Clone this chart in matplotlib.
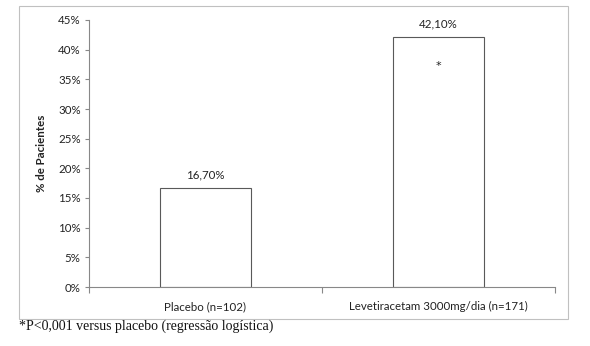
import matplotlib
matplotlib.use("Agg")
import matplotlib.pyplot as plt
from matplotlib.patches import Rectangle
from matplotlib.ticker import FixedLocator, FuncFormatter

categories = ["Placebo (n=102)", "Levetiracetam 3000mg/dia (n=171)"]
values = [0.167, 0.421]
value_labels = ["16,70%", "42,10%"]
y_ticks = [0, 0.05, 0.10, 0.15, 0.20, 0.25, 0.30, 0.35, 0.40, 0.45]

plt.rcParams['font.family'] = ['Lato', 'DejaVu Sans']

fig = plt.figure(figsize=(5.9, 3.46), dpi=100)
fig.patch.set_facecolor("white")
ax = fig.add_axes([89/590, 1-287/346, 466/590, 267/346])

x = list(range(len(categories)))
ax.bar(x, values, width=0.39, color="white", edgecolor="#595959", linewidth=0.8, zorder=2)
for xi, v, lab in zip(x, values, value_labels):
    ax.annotate(lab, (xi, v), xytext=(0, 5.5), textcoords="offset points",
                ha="center", va="bottom", fontsize=8.3, color="#222222")
ax.text(1, 0.372, "*", ha="center", va="center", fontsize=8, color="#222222",
        family=["DejaVu Sans"])

ax.set_xlim(-0.5, 1.5)
ax.set_ylim(0, 0.45)
ax.yaxis.set_major_locator(FixedLocator(y_ticks))
ax.yaxis.set_major_formatter(FuncFormatter(lambda v, p: f"{round(v*100)}%"))
ax.set_xticks([-0.5, 0.5, 1.5], minor=False)
ax.set_xticklabels([])
ax.set_xticks(x, minor=True)
ax.set_xticklabels(categories, minor=True)
ax.tick_params(axis="x", which="minor", length=0, pad=10, labelsize=8.3, labelcolor="#222222")
ax.tick_params(axis="x", which="major", length=4, color="#888888", direction="out")
ax.tick_params(axis="y", length=3, color="#888888", direction="out", labelsize=8.3,
               labelcolor="#222222", pad=3)
for s in ["top", "right"]:
    ax.spines[s].set_visible(False)
for s in ["left", "bottom"]:
    ax.spines[s].set_color("#888888")
    ax.spines[s].set_linewidth(0.8)
ax.set_ylabel("% de Pacientes", fontsize=8.3, fontweight="bold", color="#222222", labelpad=8)

fig.add_artist(Rectangle((19/590, 1-319/346), 549/590, 313/346, transform=fig.transFigure,
                         fill=False, edgecolor="#c0c0c0", linewidth=0.8))
fig.text(19/590, 1-326/346, "*P<0,001 versus placebo (regressão logística)",
         family=["Liberation Serif", "DejaVu Serif"], fontsize=10, ha="left", va="center",
         color="#111111")

fig.savefig("out.png", dpi=100, facecolor="white")
